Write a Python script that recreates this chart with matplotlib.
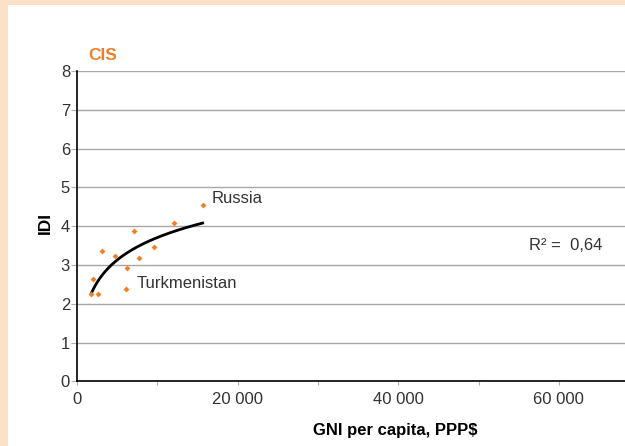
import numpy as np
import matplotlib.pyplot as plt
from matplotlib.patches import Rectangle

plt.rcParams['font.family'] = ['Liberation Sans', 'DejaVu Sans']

# GNI per capita (PPP$) and IDI for CIS countries
gni = [1750, 2580, 2040, 3160, 4790, 6240, 6150, 7150, 7690, 9640, 12140, 15640]
idi = [2.25, 2.25, 2.65, 3.37, 3.23, 2.93, 2.38, 3.87, 3.18, 3.47, 4.07, 4.54]
r2_text = "R² =  0,64"
labels = {"Russia": (16800, 4.70), "Turkmenistan": (7450, 2.53)}

orange = '#F07F2A'
peach = '#FDE0C8'

fig = plt.figure(figsize=(6.25, 4.46), dpi=100)
fig.patches.append(Rectangle((0, 0), 8 / 625, 1, transform=fig.transFigure,
                             facecolor=peach, edgecolor='none', zorder=-1))
fig.patches.append(Rectangle((0, 1 - 5 / 446), 1, 5 / 446, transform=fig.transFigure,
                             facecolor=peach, edgecolor='none', zorder=-1))

ax = fig.add_axes([77 / 625, 64.7 / 446, 1 - 77 / 625, 310.3 / 446])

# logarithmic trend
x = np.log(np.array(gni))
a, b = np.polyfit(x, idi, 1)
xs = np.linspace(min(gni), max(gni), 200)
ax.plot(xs, a * np.log(xs) + b, color='black', lw=2, zorder=3)

ax.scatter(gni, idi, marker='D', s=9, color=orange, zorder=4, linewidths=0)

ax.set_xlim(0, 68240)
ax.set_ylim(0, 8)
ax.set_yticks(range(0, 9))
ax.set_xticks(range(0, 70000, 10000), minor=True)
ax.set_xticks([0, 20000, 40000, 60000])
ax.set_xticklabels(["0", "20 000", "40 000", "60 000"])
ax.yaxis.grid(True, color='#A8A8A8', lw=1)
ax.set_axisbelow(True)

for s in ['top', 'right']:
    ax.spines[s].set_visible(False)
for s in ['left', 'bottom']:
    ax.spines[s].set_linewidth(1.2)

ax.tick_params(axis='y', length=4, width=0.8, labelsize=12, colors='#B0B0B0',
               labelcolor='#333333', pad=1)
ax.tick_params(axis='x', which='both', length=3, width=0.8, labelsize=12,
               colors='#B0B0B0', labelcolor='#333333', pad=5)

for name, (tx, ty) in labels.items():
    ax.text(tx, ty, name, fontsize=12, color='#333333', va='center', ha='left')
ax.text(56300, 3.51, r2_text, fontsize=12, color='#333333', va='center', ha='left')

ax.set_ylabel("IDI", fontsize=12.5, fontweight='bold')
ax.set_xlabel("GNI per capita, PPP$", fontsize=12, fontweight='bold')
ax.xaxis.set_label_coords((395 - 77) / 548, -(423 - 381) / 310.3)
ax.yaxis.set_label_coords(-(77 - 53) / 548, (381 - 223) / 310.3)

fig.text(88 / 625, 1 - 55 / 446, "CIS", color=orange, fontsize=12.5,
         fontweight='bold', va='center', ha='left')

fig.savefig('out.png', dpi=100)
